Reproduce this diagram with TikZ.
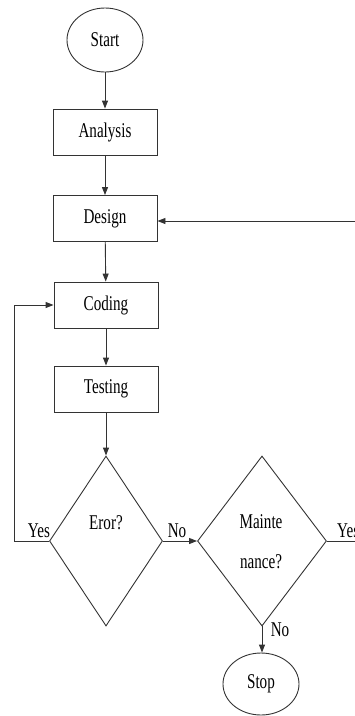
\documentclass[tikz,border=0pt]{standalone}
\usepackage{fontspec}
\setmainfont{Liberation Serif}[FakeStretch=0.72]
\usetikzlibrary{shapes.geometric,arrows.meta}
\begin{document}
\begin{tikzpicture}[x=1pt,y=-1pt,
  every node/.style={font=\fontsize{21}{23}\selectfont, text=black},
  ln/.style={draw=black!80, line width=0.9pt},
  arr/.style={ln, -{Triangle[length=8pt,width=6pt]}},
  stepbox/.style={ln, rectangle, minimum width=104pt, minimum height=46pt, inner sep=0pt},
  term/.style={ln, ellipse, minimum width=76pt, minimum height=64pt, inner sep=0pt},
  decide/.style={ln, diamond, inner sep=0pt}]
\useasboundingbox (0,0) rectangle (355,716);
\clip (0,0) rectangle (355,716);
\node[term] (start) at (105,40) {Start};
\node[stepbox] (analysis) at (105,132) {Analysis};
\node[stepbox] (design) at (105,218.5) {Design};
\node[stepbox] (coding) at (106,305) {Coding};
\node[stepbox] (testing) at (106,389) {Testing};
\node[decide, minimum width=113pt, minimum height=170pt] (err) at (106,541) {};
\node[decide, minimum width=129pt, minimum height=170pt] (maint) at (262,541) {};
\node[term, minimum height=62pt] (stop) at (261,684) {Stop};
\node (errtxt) at (106,523) {Eror?};
\node (mt1) at (261,522) {Mainte};
\node (mt2) at (261,562) {nance?};
\node (yesl) at (39,531) {Yes};
\node (nol) at (177,531) {No};
\node (nob) at (280,630) {No};
\node[anchor=west, inner sep=0pt] (yesr) at (337,531) {Yes};
\coordinate (redge) at (356,221);
\coordinate (yedge) at (356,541);
\coordinate (lcorner) at (14,541);
\draw[arr] (start) -- (analysis);
\draw[arr] (analysis) -- (design);
\draw[arr] (design) -- (coding);
\draw[arr] (coding) -- (testing);
\draw[arr] (testing) -- (err.north);
\draw[arr] (err.east) -- (maint.west);
\draw[arr] (maint.south) -- (stop.north -| maint.south);
\draw[arr] (err.west) -- (lcorner) |- (coding.west);
\draw[arr] (redge) -- (redge -| design.east);
\draw[ln] (maint.east) -- (yedge);
\end{tikzpicture}
\end{document}
